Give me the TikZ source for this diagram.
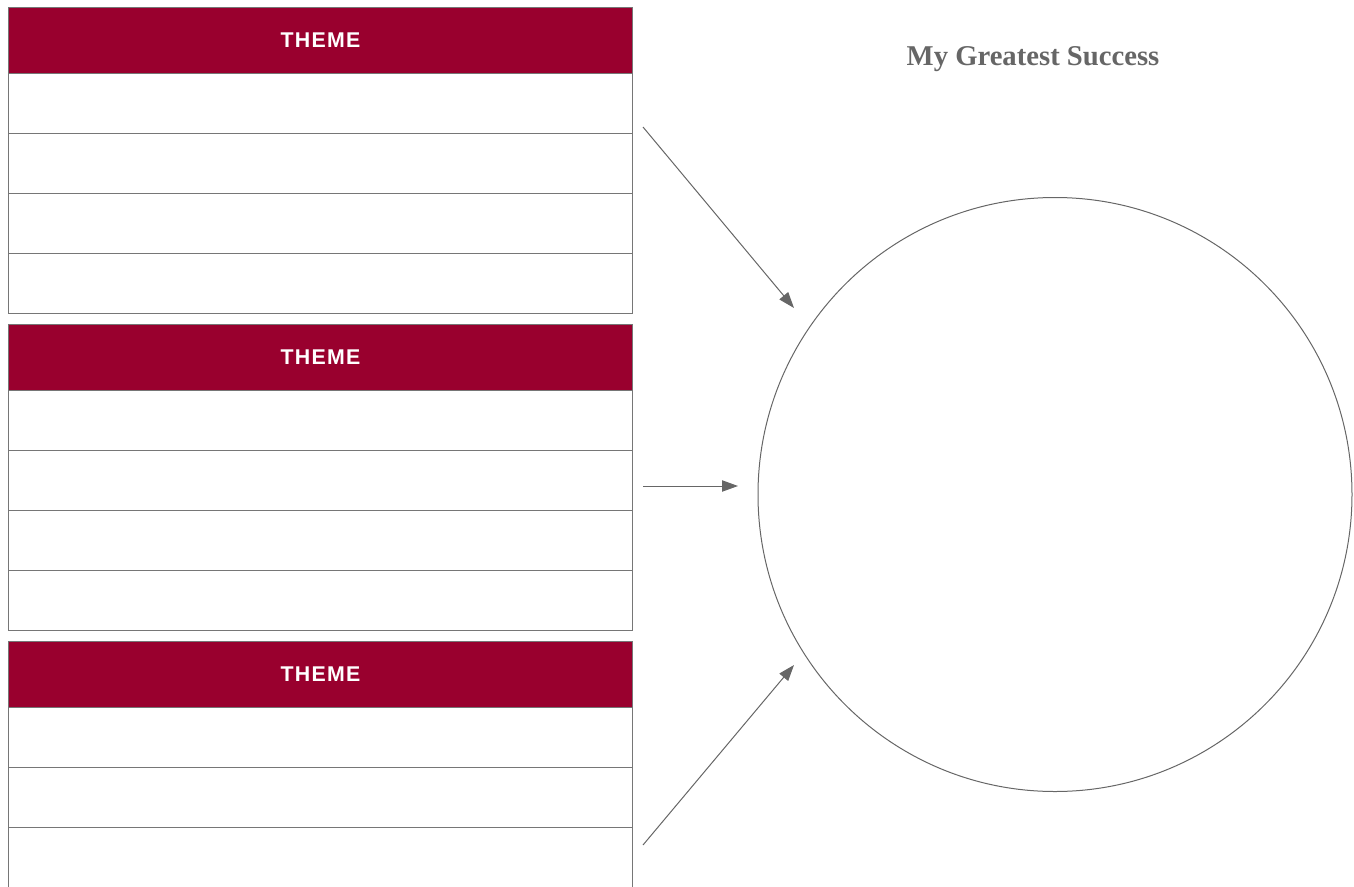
\documentclass[tikz,border=0pt]{standalone}
\usepackage{fontspec}
\setmainfont{Liberation Serif}
\setsansfont{Liberation Sans}
\usetikzlibrary{arrows.meta}
\definecolor{crimson}{RGB}{153,0,46}
\definecolor{rule}{RGB}{118,118,118}
\definecolor{ink}{RGB}{102,102,102}
\tikzset{
  themebox/.style={draw=rule, line width=0.75pt, fill=crimson, text=white, anchor=north west,
    minimum width=468pt, minimum height=49.5pt, inner sep=0pt,
    font=\sffamily\bfseries\fontsize{16}{19}\selectfont},
  rowbox/.style={draw=rule, line width=0.75pt, anchor=north west, minimum width=468pt, minimum height=45pt, inner sep=0pt},
  pointer/.style={draw=ink, line width=0.75pt, -{Triangle[length=12pt,width=8.5pt]}}
}

\begin{document}
\begin{tikzpicture}[x=0.75pt,y=0.75pt,yscale=-1,xscale=1]
\useasboundingbox (0,0) rectangle (1354,886);
\clip (0,0) rectangle (1354,886);

%Shape: Theme blocks
\foreach \k/\y in {1/7,2/324,3/641}{
  \node [themebox] (theme\k) at (8,\y) {\addfontfeature{LetterSpace=6}THEME};
  \foreach \r in {1,...,4}{
    \node [rowbox] (row\k\r) at (8,\y+66+60*\r-60) {};
  }
}

%Shape: Circle
\node [draw=ink, line width=0.75pt, circle, minimum size=445.5pt, inner sep=0pt] (goal) at (1055,494.5) {};

% Text Node
\node [font=\bfseries\fontsize{21.5}{25}\selectfont, text=ink] (title) at (1033,59) {My Greatest Success};

%Arrows
\coordinate (s1) at (643,127);
\coordinate (e1) at (794,308);
\coordinate (s2) at (643,486);
\coordinate (e2) at (738,486);
\coordinate (s3) at (643,845);
\coordinate (e3) at (794,665);
\draw [pointer] (s1) -- (e1);
\draw [pointer] (s2) -- (e2);
\draw [pointer] (s3) -- (e3);

\end{tikzpicture}
\end{document}
